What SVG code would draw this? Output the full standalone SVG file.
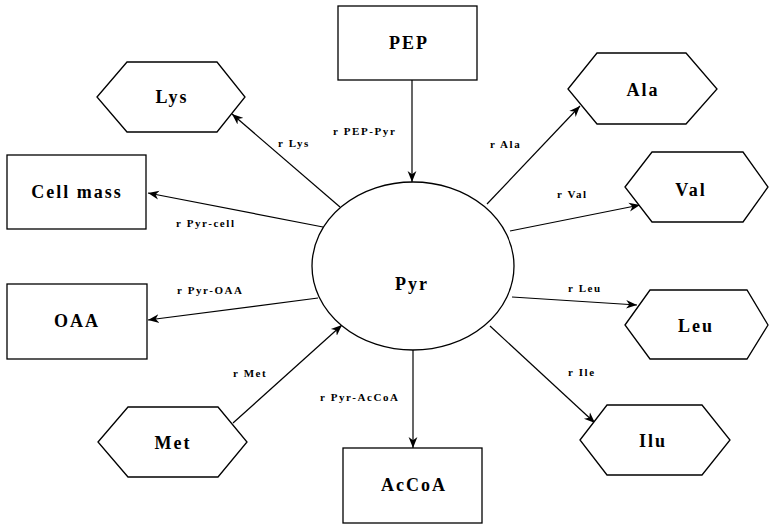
<svg xmlns="http://www.w3.org/2000/svg" width="769" height="525" viewBox="0 0 769 525">
<style>
.n{fill:#fff;stroke:#000;stroke-width:1.3}
.t{font-family:"Liberation Serif","Times New Roman",serif;font-weight:bold;font-size:18px;text-anchor:middle;letter-spacing:2px}
.l{font-family:"Liberation Serif","Times New Roman",serif;font-weight:bold;font-size:11px;letter-spacing:1.6px}
.c{stroke:#000;stroke-width:1.2;fill:none;marker-end:url(#a)}
</style>
<defs>
<marker id="a" viewBox="0 0 10 10" refX="10" refY="5" markerWidth="11" markerHeight="11" markerUnits="userSpaceOnUse" orient="auto">
<path d="M0,1 L10,5 L0,9 L3,5 Z" fill="#000"/>
</marker>
</defs>
<rect width="769" height="525" fill="#fff"/>
<g id="connectors">
<line class="c" x1="412" y1="80" x2="412" y2="182"/>
<line class="c" x1="340" y1="207" x2="232" y2="114"/>
<line class="c" x1="323" y1="227" x2="148" y2="193"/>
<line class="c" x1="318" y1="298" x2="148" y2="320"/>
<line class="c" x1="233" y1="423" x2="342" y2="325"/>
<line class="c" x1="413" y1="350" x2="413" y2="448"/>
<line class="c" x1="490" y1="326" x2="595" y2="423"/>
<line class="c" x1="512" y1="297" x2="637" y2="305"/>
<line class="c" x1="510" y1="231" x2="640" y2="205"/>
<line class="c" x1="487" y1="204" x2="580" y2="106"/>
<text class="l" x="333" y="135">r PEP-Pyr</text>
<text class="l" x="278" y="147">r Lys</text>
<text class="l" x="176" y="227">r Pyr-cell</text>
<text class="l" x="490" y="148">r Ala</text>
<text class="l" x="557" y="198">r Val</text>
<text class="l" x="177" y="294">r Pyr-OAA</text>
<text class="l" x="233" y="377">r Met</text>
<text class="l" x="320" y="401">r Pyr-AcCoA</text>
<text class="l" x="568" y="292">r Leu</text>
<text class="l" x="568" y="376">r Ile</text>
</g>
<g id="pyr"><ellipse class="n" cx="413" cy="266" rx="101" ry="84"/><text class="t" x="412" y="290">Pyr</text></g>
<g id="pep"><rect class="n" x="338" y="6" width="139" height="74"/><text class="t" x="409" y="49">PEP</text></g>
<g id="lys"><polygon class="n" points="97,97 127,62 217,62 245,97 217,132 127,132"/><text class="t" x="172" y="103">Lys</text></g>
<g id="cellmass"><rect class="n" x="7" y="155" width="139" height="74"/><text class="t" x="77" y="198">Cell mass</text></g>
<g id="oaa"><rect class="n" x="7" y="284" width="140" height="75"/><text class="t" x="77" y="327">OAA</text></g>
<g id="met"><polygon class="n" points="98,442 128,407 218,407 247,442 218,477 128,477"/><text class="t" x="173" y="449">Met</text></g>
<g id="accoa"><rect class="n" x="343" y="448" width="139" height="75"/><text class="t" x="414" y="491">AcCoA</text></g>
<g id="ala"><polygon class="n" points="568,89 597,53 686,53 717,89 686,124 597,124"/><text class="t" x="643" y="96">Ala</text></g>
<g id="val"><polygon class="n" points="625,187 652,152 743,152 768,187 743,222 652,222"/><text class="t" x="691" y="196">Val</text></g>
<g id="leu"><polygon class="n" points="625,325 650,290 747,290 768,325 747,359 650,359"/><text class="t" x="696" y="332">Leu</text></g>
<g id="ilu"><polygon class="n" points="580,440 607,405 702,405 730,440 702,475 607,475"/><text class="t" x="653" y="447">Ilu</text></g>
</svg>
